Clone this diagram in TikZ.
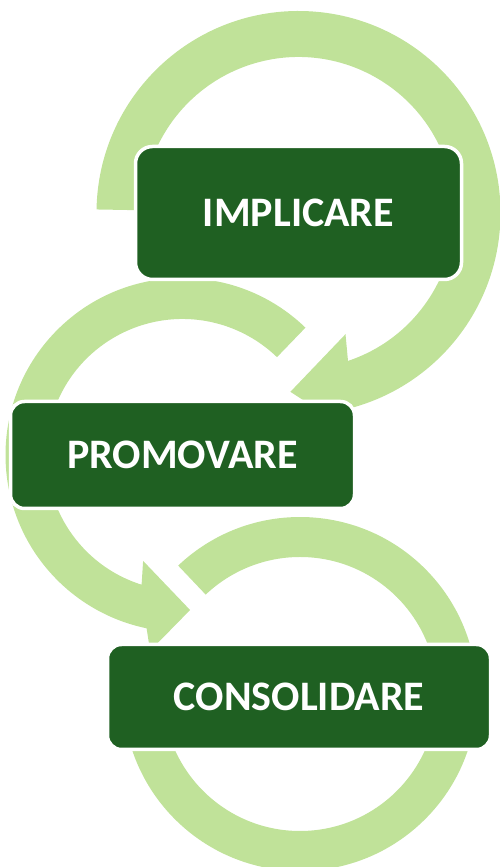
\documentclass[tikz,border=0pt]{standalone}
\usepackage{fontspec}
\setmainfont{Carlito}
\usetikzlibrary{backgrounds}
\definecolor{ringgreen}{RGB}{192,226,153}
\definecolor{boxgreen}{RGB}{31,96,34}

\begin{document}
\begin{tikzpicture}[x=1pt, y=1pt,
    stage/.style={draw=white, line width=3.5pt, fill=boxgreen, text=white,
        font=\fontsize{42}{50}\selectfont\bfseries, rounded corners=14pt},
    ring/.style={fill=ringgreen}]
    \useasboundingbox (0,0) rectangle (499,867);

    \node (impl) [stage, minimum width=326pt, minimum height=133pt, rounded corners=17pt] at (298.5,654) {IMPLICARE};
    \node (prom) [stage, minimum width=344pt, minimum height=107pt] at (182.5,412) {PROMOVARE};
    \node (cons) [stage, minimum width=383pt, minimum height=105pt] at (299,170) {CONSOLIDARE};

    \begin{scope}[on background layer]
    % ring round IMPLICARE, clockwise, head ends over PROMOVARE
    \fill[ring, shift={(impl.center)}] (179:202) arc[start angle=179, end angle=-74.5, radius=202]
        -- (-75.7:227.6) -- (-92.6:179) -- (-68.8:130) -- (-71.5:156)
        arc[start angle=-71.5, end angle=179, radius=156] -- cycle;
    % ring round PROMOVARE, counter clockwise
    \fill[ring, shift={(prom.center)}] (46:177) arc[start angle=46, end angle=258.3, radius=177]
        -- (260.6:198.5) -- (272.8:155.2) -- (249.6:113) -- (252.5:136)
        arc[start angle=252.5, end angle=46, radius=136] -- cycle;
    % ring round CONSOLIDARE, no head
    \fill[ring, shift={(cons.center)}, xshift=1pt, yshift=3pt] (133.5:177) arc[start angle=133.5, end angle=-180, radius=177]
        -- (180:137) arc[start angle=-180, end angle=133.5, radius=137] -- cycle;
    \end{scope}
\end{tikzpicture}
\end{document}
